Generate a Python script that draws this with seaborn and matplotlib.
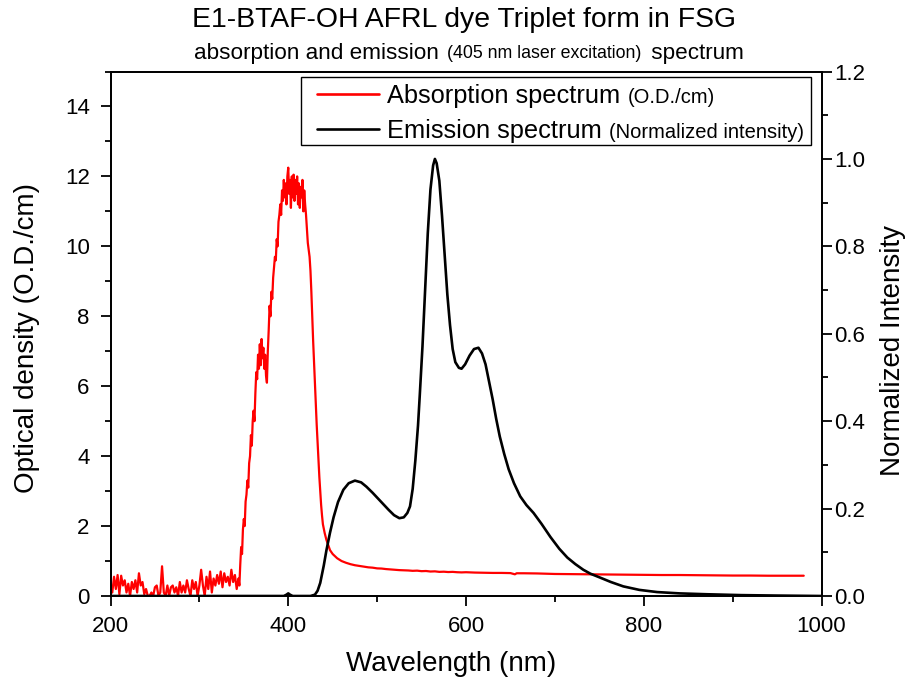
import numpy as np
import pandas as pd
import matplotlib
matplotlib.use("Agg")
import matplotlib.pyplot as plt
import seaborn as sns
from matplotlib.offsetbox import TextArea, HPacker, VPacker, DrawingArea, AnchoredOffsetbox
from matplotlib.lines import Line2D
from matplotlib.ticker import MultipleLocator, FormatStrFormatter

# ---------------- data ----------------
# absorption: noisy baseline region, sampled every 2 nm from 200 nm
abs_noise_start = 200
abs_noise_step = 2
abs_noise = [0.30, 0.10, 0.55, 0.20, 0.60, 0.05, 0.58, 0.30, 0.45, 0.10,
             0.35, 0.00, 0.40, 0.20, 0.45, 0.10, 0.65, 0.30, 0.40, 0.05,
             0.20, 0.00, 0.00, 0.10, 0.00, 0.25, 0.30, 0.00, 0.10, 0.85,
             0.10, 0.00, 0.30, 0.00, 0.25, 0.30, 0.10, 0.25, 0.00, 0.40,
             0.10, 0.30, 0.10, 0.45, 0.20, 0.00, 0.45, 0.20, 0.40, 0.00,
             0.30, 0.75, 0.30, 0.00, 0.55, 0.20, 0.70, 0.10, 0.50, 0.30,
             0.60, 0.35, 0.70, 0.25, 0.65, 0.40, 0.55, 0.30, 0.75, 0.40,
             0.60, 0.20, 0.50]
# absorption band, sampled every 1 nm from 345 nm
abs_band_start = 345
abs_band = [0.3, 0.9, 1.4, 1.2, 1.9, 2.2, 2.0, 2.7, 2.9, 3.3,
            3.1, 3.8, 4.0, 4.6, 4.3, 5.0, 5.3, 5.0, 5.8, 6.4,
            6.2, 6.9, 6.5, 7.2, 6.6, 7.35, 6.8, 7.1, 6.5, 6.9,
            6.3, 6.1, 7.0, 7.6, 8.3, 8.0, 8.7, 8.5, 9.1, 9.4,
            9.7, 9.6, 10.2, 10.0, 10.7, 10.9, 11.2, 10.9, 11.6, 11.3,
            11.9, 11.4, 11.8, 11.2, 12.0, 12.25, 11.5, 11.9, 11.1, 12.0,
            11.4, 12.05, 11.3, 11.9, 11.5, 12.0, 11.2, 11.8, 11.1, 11.7,
            11.4, 11.9, 11.0, 11.6, 11.2, 10.9, 10.5, 10.1, 9.9, 9.7,
            9.3, 8.7, 8.0, 7.3, 6.7, 6.1, 5.5, 4.9, 4.4, 3.9,
            3.4, 3.0, 2.6, 2.3, 2.05]
# absorption tail
abs_tail_wl = [441, 443, 447, 450, 455, 460, 465, 470, 475, 480, 485, 490, 495,
               500, 505, 510, 515, 520, 525, 530, 535, 540, 545, 550, 555, 560,
               565, 570, 575, 580, 585, 590, 595, 600, 610, 620, 630, 640, 650,
               655, 657, 665, 680, 700, 720, 740, 760, 780, 800, 820, 840, 860,
               880, 900, 920, 940, 960, 980]
abs_tail = [1.80, 1.60, 1.31, 1.20, 1.08, 1.00, 0.95, 0.91, 0.88, 0.86, 0.84, 0.82, 0.81,
            0.79, 0.785, 0.77, 0.76, 0.75, 0.74, 0.735, 0.73, 0.72, 0.725, 0.71, 0.715, 0.70,
            0.705, 0.69, 0.695, 0.685, 0.69, 0.68, 0.675, 0.68, 0.67, 0.665, 0.66, 0.66, 0.655,
            0.62, 0.65, 0.65, 0.645, 0.63, 0.625, 0.62, 0.615, 0.61, 0.605, 0.60, 0.60, 0.595,
            0.59, 0.585, 0.585, 0.58, 0.58, 0.58]

# emission (normalized)
em_wl = [200, 300, 395, 398, 400, 402, 405, 425, 430, 433, 436, 440, 443, 447, 451,
         456, 462, 468, 475, 482, 488, 495, 501, 507, 513, 519, 525, 530, 534, 537,
         540, 543, 546, 548, 551, 554, 557, 560, 563, 565, 567, 570, 573, 576, 579,
         582, 585, 588, 592, 595, 599, 604, 609, 614, 618, 622, 626, 630, 634, 638,
         643, 648, 654, 661, 668, 676, 685, 695, 705, 714, 723, 732, 740, 751, 763,
         777, 795, 815, 840, 871, 910, 950, 1000]
em_int = [0.0, 0.0, 0.0, 0.003, 0.006, 0.003, 0.0, 0.0, 0.003, 0.012, 0.03, 0.07, 0.105, 0.145, 0.18,
          0.215, 0.243, 0.258, 0.264, 0.26, 0.25, 0.236, 0.223, 0.21, 0.197, 0.185, 0.178, 0.18, 0.19, 0.205,
          0.245, 0.31, 0.39, 0.46, 0.57, 0.70, 0.83, 0.93, 0.985, 1.0, 0.99, 0.95, 0.87, 0.78, 0.69,
          0.62, 0.565, 0.535, 0.522, 0.52, 0.53, 0.55, 0.565, 0.568, 0.555, 0.53, 0.49, 0.45, 0.405, 0.365,
          0.325, 0.29, 0.258, 0.228, 0.208, 0.19, 0.165, 0.135, 0.108, 0.088, 0.073, 0.06, 0.051, 0.042, 0.032,
          0.022, 0.014, 0.009, 0.006, 0.004, 0.002, 0.001, 0.0]

x_ticks = [200, 400, 600, 800, 1000]
left_ticks = [0, 2, 4, 6, 8, 10, 12, 14]
right_ticks = [0.0, 0.2, 0.4, 0.6, 0.8, 1.0, 1.2]

# ---------------- build tables ----------------
abs_wl = ([abs_noise_start + abs_noise_step * i for i in range(len(abs_noise))]
          + [abs_band_start + i for i in range(len(abs_band))]
          + abs_tail_wl)
abs_od = abs_noise + abs_band + abs_tail
abs_df = pd.DataFrame({"wl": abs_wl, "od": abs_od})
em_df = pd.DataFrame({"wl": em_wl, "I": em_int})

# ---------------- style ----------------
sns.set_theme(style="ticks")
plt.rcParams['font.family'] = ['Liberation Sans', 'DejaVu Sans']
for k in ['text.color', 'axes.labelcolor', 'xtick.color', 'ytick.color', 'axes.edgecolor']:
    plt.rcParams[k] = 'black'

fig = plt.figure(figsize=(9.06, 6.84), dpi=100)
L, R, T, B = 110.5, 821.5, 71.5, 596.0
ax = fig.add_axes([L / 906, 1 - B / 684, (R - L) / 906, (B - T) / 684])
ax2 = ax.twinx()

sns.lineplot(data=abs_df, x="wl", y="od", ax=ax, color="#ff0000", lw=1.6,
             estimator=None, sort=False, legend=False)
sns.lineplot(data=em_df, x="wl", y="I", ax=ax2, color="black", lw=1.9,
             estimator=None, sort=False, legend=False)

ax.set_xlim(200, 1000)
ax.set_ylim(0, 15)
ax2.set_ylim(0, 1.2)
ax.set_xticks(x_ticks)
ax.set_yticks(left_ticks)
ax2.set_yticks(right_ticks)
ax.xaxis.set_minor_locator(MultipleLocator(100))
ax.yaxis.set_minor_locator(MultipleLocator(1))
ax2.yaxis.set_minor_locator(MultipleLocator(0.1))
ax2.yaxis.set_major_formatter(FormatStrFormatter('%.1f'))

for a in (ax, ax2):
    for s in a.spines.values():
        s.set_linewidth(1.3)
        s.set_color('black')
        s.set_visible(True)
TICK_FS = 16
ax.tick_params(axis='both', which='major', direction='out', length=7, width=1.3,
               labelsize=TICK_FS, top=False, right=False)
ax.tick_params(axis='x', which='major', pad=7.5)
ax.tick_params(axis='y', which='major', pad=8)
ax.tick_params(axis='both', which='minor', direction='out', length=4, width=1.3,
               top=False, right=False)
ax2.tick_params(axis='y', which='major', direction='out', length=7, width=1.3,
                labelsize=TICK_FS, left=False, right=True, pad=2)
ax2.tick_params(axis='y', which='minor', direction='out', length=4, width=1.3,
                left=False, right=True)

ax.set_xlabel("")
ax.set_ylabel("")
ax2.set_ylabel("")
LAB_FS = 20
fig.text(451.5 / 906, 1 - 664 / 684, "Wavelength (nm)", fontsize=LAB_FS,
         ha='center', va='center')
fig.text(27 / 906, 1 - 338 / 684, "Optical density (O.D./cm)", fontsize=LAB_FS,
         ha='center', va='center', rotation=90)
fig.text(893 / 906, 1 - 351 / 684, "Normalized Intensity", fontsize=LAB_FS,
         ha='center', va='center', rotation=90)

# ---------------- legend ----------------
def legend_row(color, main, small):
    da = DrawingArea(51.4, 12, 0, 0)
    da.add_artist(Line2D([6.8, 51.4], [6.6, 6.6], color=color, lw=1.9))
    t1 = TextArea(main, textprops=dict(fontsize=18.3, color='black'))
    t2 = TextArea(small, textprops=dict(fontsize=14.5, color='black'))
    return HPacker(children=[da, t1, t2], align='baseline', pad=0, sep=5.5)

rows = VPacker(children=[legend_row("#ff0000", "Absorption spectrum", "(O.D./cm)"),
                         legend_row("black", "Emission spectrum", "(Normalized intensity)")],
               align='left', pad=0, sep=7.9)
col = VPacker(children=[DrawingArea(1, 5.0, 0, 0), rows, DrawingArea(1, 1.4, 0, 0)],
              align='left', pad=0, sep=0)
content = HPacker(children=[DrawingArea(5.0, 1, 0, 0), col, DrawingArea(5.0, 1, 0, 0)],
                  align='top', pad=0, sep=0)
leg = AnchoredOffsetbox(loc='upper right', child=content, pad=0, borderpad=0,
                        prop=dict(size=10), frameon=True,
                        bbox_to_anchor=(811 / 906, 1 - 77 / 684),
                        bbox_transform=fig.transFigure)
leg.patch.set_edgecolor('black')
leg.patch.set_linewidth(1.0)
leg.patch.set_boxstyle('square', pad=0)
ax2.add_artist(leg)

# ---------------- titles ----------------
fig.text(464 / 906, 1 - 26.7 / 684, "E1-BTAF-OH AFRL dye Triplet form in FSG",
         ha='center', va='baseline', fontsize=20.4)
sub = HPacker(children=[TextArea("absorption and emission ", textprops=dict(fontsize=16.2)),
                        TextArea("(405 nm laser excitation)", textprops=dict(fontsize=12.8)),
                        TextArea(" spectrum", textprops=dict(fontsize=16.2))],
              align='baseline', pad=0, sep=2)
subbox = AnchoredOffsetbox(loc='center', child=sub, pad=0, borderpad=0, frameon=False,
                           bbox_to_anchor=(468.5 / 906, 1 - 53 / 684),
                           bbox_transform=fig.transFigure)
fig.add_artist(subbox)

fig.savefig("out.png", dpi=100)
